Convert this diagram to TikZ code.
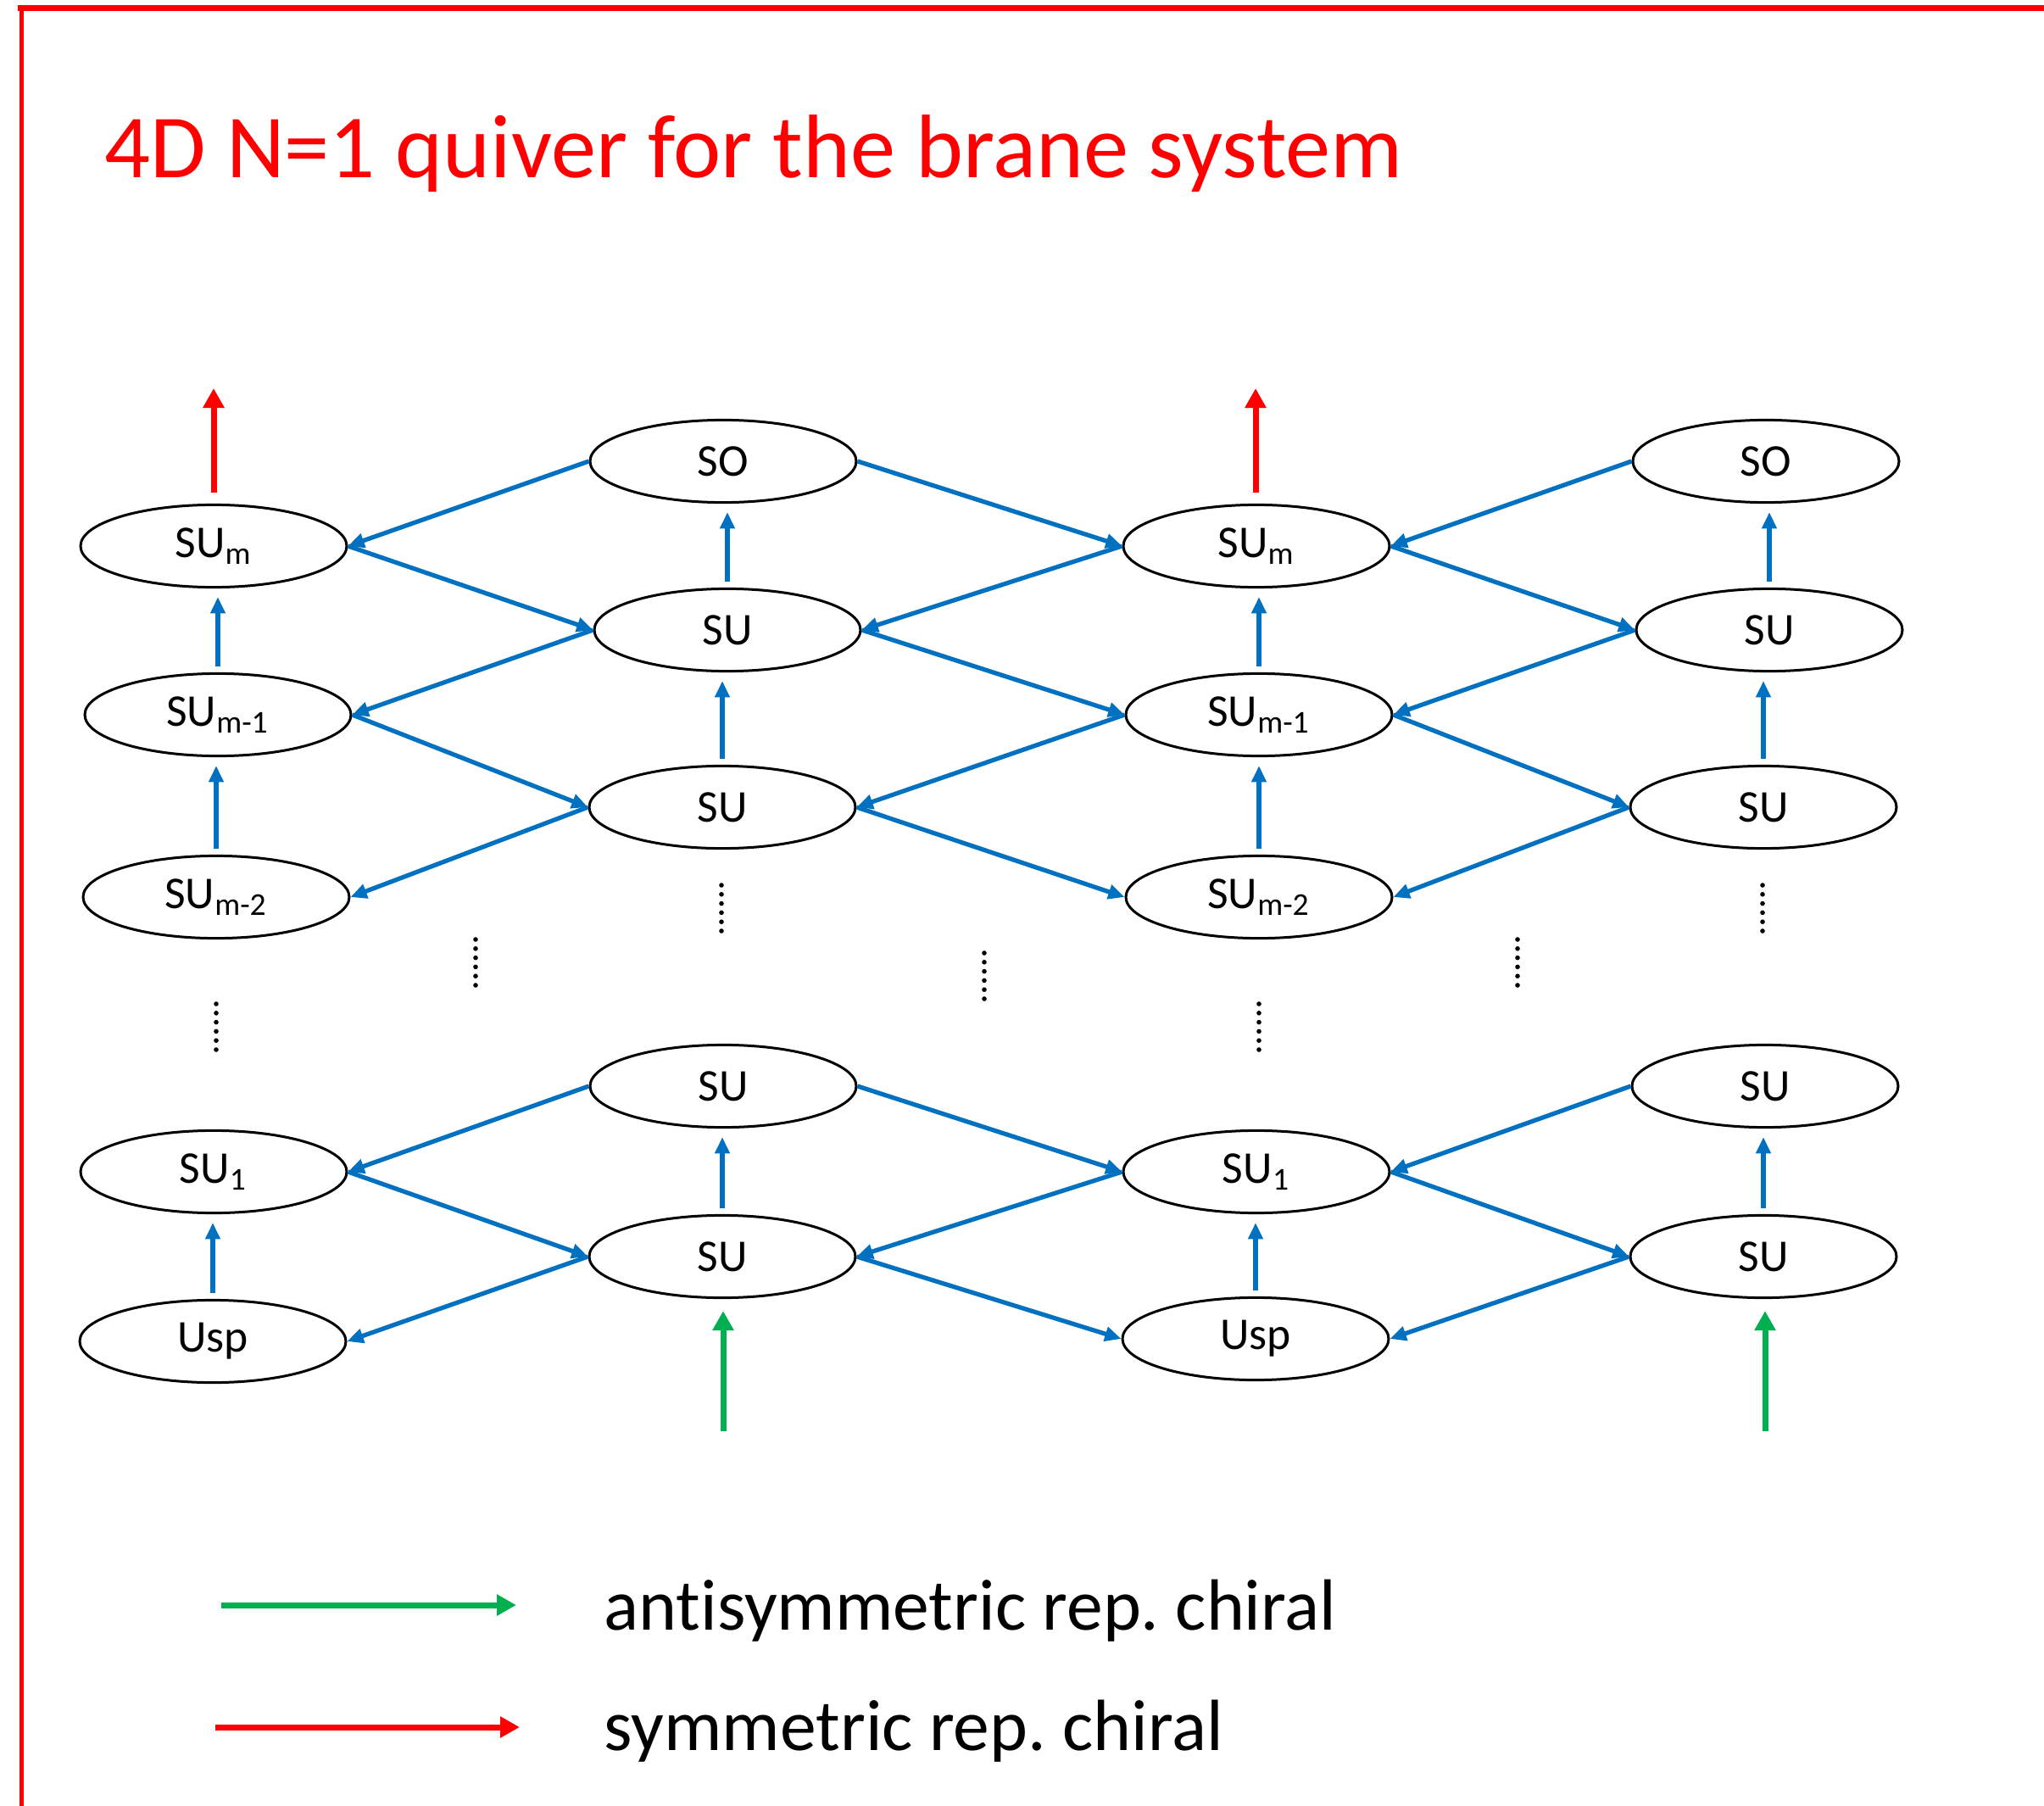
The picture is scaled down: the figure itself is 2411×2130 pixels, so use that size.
\documentclass[tikz,border=0pt]{standalone}
\usepackage{fontspec}
\setmainfont{Carlito}[Ligatures=NoCommon]
\frenchspacing
\usetikzlibrary{shapes.geometric,arrows.meta}
\definecolor{myblue}{HTML}{0070C0}
\definecolor{mygreen}{HTML}{00B050}
\definecolor{myred}{HTML}{FF0000}
\tikzset{
  grp/.style={draw, ellipse, line width=0.75pt, minimum width=78.5pt, minimum height=24.3pt, inner sep=0pt, font=\fontsize{13.4}{15}\selectfont},
  bl/.style={draw=myblue, line width=1.3pt, -{Triangle[length=4.8pt,width=4.2pt]}},
  vbl/.style={bl, shorten <=1.75pt, shorten >=2.5pt},
  colarr/.style={line width=1.75pt, -{Triangle[length=5.75pt,width=6pt]}},
  redarr/.style={colarr, draw=myred},
  grnarr/.style={colarr, draw=mygreen},
  dotsv/.style={line width=1.4pt, dash pattern=on 0pt off 2.7pt, line cap=round}
}
\begin{document}
\begin{tikzpicture}[x=0.25pt,y=-0.25pt]
\useasboundingbox (0,0) rectangle (2411,2130);
% frame
\draw[myred, line width=1.8pt] (21,9.5) -- (2411,9.5);
\draw[myred, line width=1.25pt] (25,6) -- (25,2130);
% title
\node[anchor=base west, inner sep=0pt, text=myred, font=\fontsize{26.6}{30}\selectfont] (title) at (123,210) {4D N=1 quiver for the brane system};
% column 1
\node[grp] (a1) at (252,644) {SU\textsubscript{m}};
\node[grp] (a2) at (257,843) {SU\textsubscript{m-1}};
\node[grp] (a3) at (255,1058) {SU\textsubscript{m-2}};
\node[grp] (a4) at (252,1382) {SU\textsubscript{1}};
\node[grp] (a5) at (251,1582) {Usp};
% column 2
\node[grp] (b1) at (853,544) {SO};
\node[grp] (b2) at (858,743) {SU};
\node[grp] (b3) at (852,952) {SU};
\node[grp] (b4) at (853,1281) {SU};
\node[grp] (b5) at (852,1482) {SU};
% column 3
\node[grp] (c1) at (1482,644) {SU\textsubscript{m}};
\node[grp] (c2) at (1485,843) {SU\textsubscript{m-1}};
\node[grp] (c3) at (1485,1058) {SU\textsubscript{m-2}};
\node[grp] (c4) at (1482,1382) {SU\textsubscript{1}};
\node[grp] (c5) at (1481,1579) {Usp};
% column 4
\node[grp] (d1) at (2083,544) {SO};
\node[grp] (d2) at (2087,743) {SU};
\node[grp] (d3) at (2080,952) {SU};
\node[grp] (d4) at (2082,1281) {SU};
\node[grp] (d5) at (2080,1482) {SU};
% diagonal arrows top
\draw[bl] (b1.west) -- (a1.east);
\draw[bl] (a1.east) -- (b2.west);
\draw[bl] (b2.west) -- (a2.east);
\draw[bl] (a2.east) -- (b3.west);
\draw[bl] (b3.west) -- (a3.east);
\draw[bl] (b1.east) -- (c1.west);
\draw[bl] (c1.west) -- (b2.east);
\draw[bl] (b2.east) -- (c2.west);
\draw[bl] (c2.west) -- (b3.east);
\draw[bl] (b3.east) -- (c3.west);
\draw[bl] (d1.west) -- (c1.east);
\draw[bl] (c1.east) -- (d2.west);
\draw[bl] (d2.west) -- (c2.east);
\draw[bl] (c2.east) -- (d3.west);
\draw[bl] (d3.west) -- (c3.east);
% diagonal arrows bottom
\draw[bl] (b4.west) -- (a4.east);
\draw[bl] (a4.east) -- (b5.west);
\draw[bl] (b5.west) -- (a5.east);
\draw[bl] (b4.east) -- (c4.west);
\draw[bl] (c4.west) -- (b5.east);
\draw[bl] (b5.east) -- (c5.west);
\draw[bl] (d4.west) -- (c4.east);
\draw[bl] (c4.east) -- (d5.west);
\draw[bl] (d5.west) -- (c5.east);
% vertical arrows
\draw[vbl] (a2.north) -- (a2.north |- a1.south);
\draw[vbl] (a3.north) -- (a3.north |- a2.south);
\draw[vbl] (a5.north) -- (a5.north |- a4.south);
\draw[vbl] (b2.north) -- (b2.north |- b1.south);
\draw[vbl] (b3.north) -- (b3.north |- b2.south);
\draw[vbl] (b5.north) -- (b5.north |- b4.south);
\draw[vbl] (c2.north) -- (c2.north |- c1.south);
\draw[vbl] (c3.north) -- (c3.north |- c2.south);
\draw[vbl] (c5.north) -- (c5.north |- c4.south);
\draw[vbl] (d2.north) -- (d2.north |- d1.south);
\draw[vbl] (d3.north) -- (d3.north |- d2.south);
\draw[vbl] (d5.north) -- (d5.north |- d4.south);
% red and green chirals
\coordinate (ra) at (252,458);
\coordinate (rc) at (1481,458);
\coordinate (ra0) at (252,581);
\coordinate (rc0) at (1481,581);
\draw[redarr] (ra0) -- (ra);
\draw[redarr] (rc0) -- (rc);
\coordinate (gb) at (853,1688);
\coordinate (gd) at (2082,1688);
\draw[grnarr, shorten >=3.5pt] (gb) -- (gb |- b5.south);
\draw[grnarr, shorten >=3.5pt] (gd) -- (gd |- d5.south);
% dots
\draw[dotsv] (255,1184) -- (255,1238);
\draw[dotsv] (851,1044) -- (851,1098);
\draw[dotsv] (1485,1184) -- (1485,1238);
\draw[dotsv] (2079,1044) -- (2079,1098);
\draw[dotsv] (561,1108) -- (561,1162);
\draw[dotsv] (1161,1124) -- (1161,1178);
\draw[dotsv] (1790,1108) -- (1790,1162);
% legend
\coordinate (lg1) at (261,1893);
\coordinate (lg2) at (609,1893);
\coordinate (lr1) at (254,2037);
\coordinate (lr2) at (613,2037);
\draw[grnarr] (lg1) -- (lg2);
\draw[redarr] (lr1) -- (lr2);
\node[anchor=base west, inner sep=0pt, font=\fontsize{21.4}{25}\selectfont] (lt1) at (712,1922) {antisymmetric rep. chiral};
\node[anchor=base west, inner sep=0pt, font=\fontsize{21.4}{25}\selectfont] (lt2) at (712,2064) {symmetric rep. chiral};
\end{tikzpicture}
\end{document}
